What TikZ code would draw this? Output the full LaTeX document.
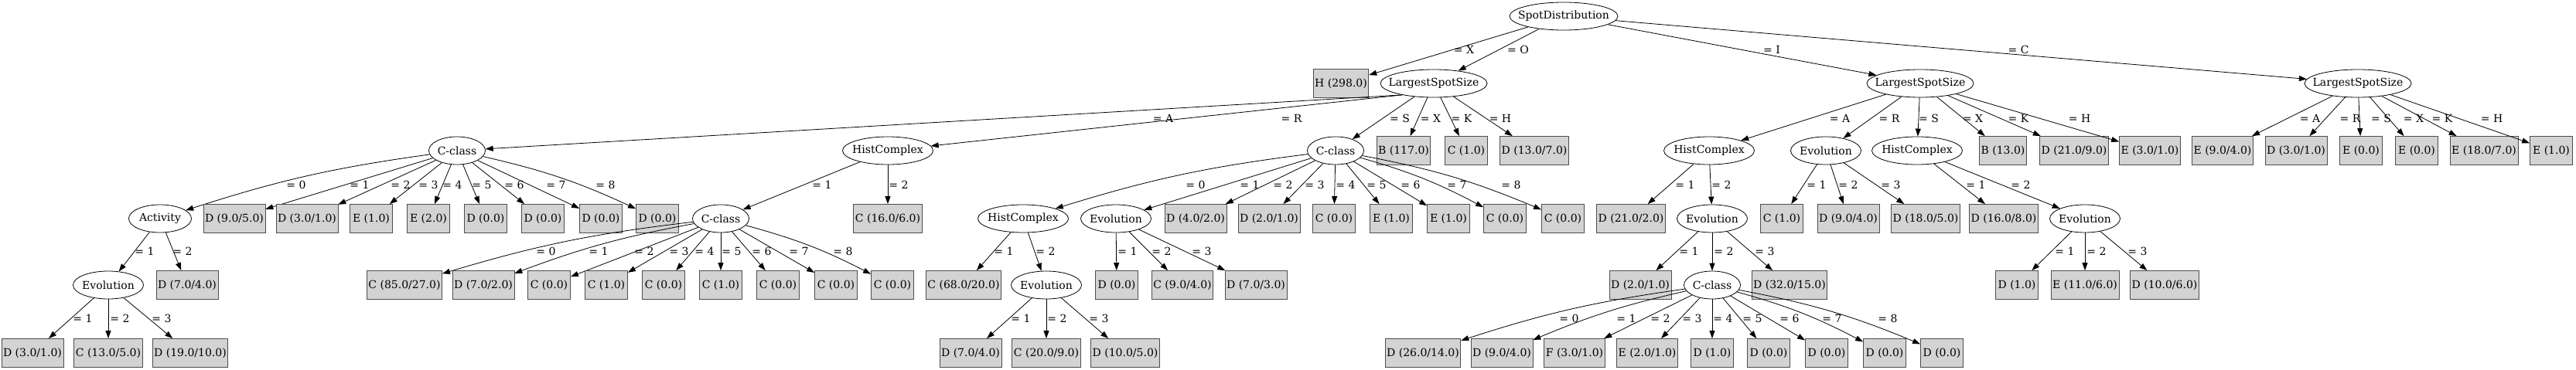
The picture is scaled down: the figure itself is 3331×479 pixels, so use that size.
\documentclass[tikz,border=0pt]{standalone}
\usepackage{fontspec}
\setmainfont{DejaVu Serif}
\usetikzlibrary{arrows.meta,shapes.geometric}
\definecolor{leafgray}{HTML}{D3D3D3}
\definecolor{leafline}{HTML}{4D4D4D}

\tikzset{
  attr/.style={draw, ellipse, line width=0.8pt, inner sep=0pt, minimum height=36pt, minimum width=#1,
    execute at begin node={\hbox to 0pt\bgroup\hss},
    execute at end node={\hss\egroup}},
  leaf/.style={draw=leafline, line width=0.8pt, fill=leafgray, minimum height=37pt, minimum width=55pt,
    inner xsep=2pt, inner ysep=0pt},
  link/.style={-{Triangle[length=10pt,width=7pt]}, line width=0.8pt},
  lbl/.style={inner sep=0pt},
  eS/.style={}, eL/.style={bend right=5}, eR/.style={bend left=6}
}

\begin{document}
\begin{tikzpicture}[x=1pt,y=-1pt,font=\fontsize{14pt}{16pt}\selectfont]
\useasboundingbox (0,0) rectangle (3331,479);
% root
\node[attr=140pt] (spot) at (2022,21) {SpotDistribution};
\node[leaf] (spotX) at (1734,108) {H (298.0)};
\node[attr=138pt] (sizeO) at (1854,108) {LargestSpotSize};
\node[attr=138pt] (sizeI) at (2483,108) {LargestSpotSize};
\node[attr=138pt] (sizeC) at (3049,108) {LargestSpotSize};
\foreach \c/\v/\lx in {spotX/X/1893,sizeO/O/1963,sizeI/I/2291,sizeC/C/2610}{
  \draw[link] (spot) -- (\c);
  \node[lbl] (l\c) at (\lx,64) {= \v};
}

% LargestSpotSize = O
\node[attr=73pt] (ccA) at (591,195) {C-class};
\node[attr=117pt] (hcR) at (1148,195) {HistComplex};
\node[attr=73pt] (ccS) at (1727,195) {C-class};
\draw[link] (sizeO.200) -- (ccA);
\node[lbl] (lccA) at (1504,153) {= A};
\draw[link] (sizeO.200) -- (hcR);
\node[lbl] (lhcR) at (1670,153) {= R};
\draw[link] (sizeO) -- (ccS);
\node[lbl] (lccS) at (1810,153) {= S};
\foreach \v/\t/\x/\lx in {X/{B (117.0)}/1815/1850,K/{C (1.0)}/1896/1890,H/{D (13.0/7.0)}/1984/1940}{
  \node[leaf] (sizeO\v) at (\x,195) {\t};
  \draw[link] (sizeO) -- (sizeO\v);
  \node[lbl] (lsizeO\v) at (\lx,153) {= \v};
}

% LargestSpotSize = I
\node[attr=117pt] (hcIA) at (2210,195) {HistComplex};
\node[attr=91pt] (evIR) at (2361,195) {Evolution};
\node[attr=117pt] (hcIS) at (2479,195) {HistComplex};
\node[leaf] (sizeIX) at (2590,195) {B (13.0)};
\node[leaf] (sizeIK) at (2682,195) {D (21.0/9.0)};
\node[leaf] (sizeIH) at (2780,195) {E (3.0/1.0)};
\foreach \c/\v/\lx in {hcIA/A/2379,evIR/R/2443,hcIS/S/2494,sizeIX/X/2551,sizeIK/K/2610,sizeIH/H/2689}{
  \draw[link] (sizeI) -- (\c);
  \node[lbl] (l\c) at (\lx,153) {= \v};
}

% LargestSpotSize = C
\foreach \v/\t/\x/\lx in {A/{E (9.0/4.0)}/2874/2987,R/{D (3.0/1.0)}/2969/3039,S/{E (0.0)}/3053/3079,
    X/{E (0.0)}/3125/3121,K/{E (18.0/7.0)}/3212/3158,H/{E (1.0)}/3299/3222}{
  \node[leaf] (sizeC\v) at (\x,195) {\t};
  \draw[link] (sizeC) -- (sizeC\v);
  \node[lbl] (lsizeC\v) at (\lx,153) {= \v};
}

% C-class under A
\node[attr=81pt] (act) at (207,283) {Activity};
\draw[link] (ccA) to[eL] (act);
\node[lbl] (lact) at (383,239) {= 0};
\foreach \i/\t/\x/\lx/\b in {1/{D (9.0/5.0)}/303/465/eS,2/{D (3.0/1.0)}/397/518/eS,3/{E (1.0)}/480/554/eS,
    4/{E (2.0)}/554/585/eS,5/{D (0.0)}/628/623/eS,6/{D (0.0)}/702/665/eS,7/{D (0.0)}/777/719/eS,8/{D (0.0)}/850/783/eR}{
  \node[leaf] (ccA\i) at (\x,283) {\t};
  \draw[link] (ccA) to[\b] (ccA\i);
  \node[lbl] (lccA\i) at (\lx,239) {= \i};
}

% HistComplex under R
\node[attr=73pt] (ccR) at (932,283) {C-class};
\node[leaf] (hcR2) at (1148,283) {C (16.0/6.0)};
\draw[link] (hcR) -- (ccR);
\node[lbl] (lccR) at (1063,239) {= 1};
\draw[link] (hcR) -- (hcR2);
\node[lbl] (lhcR2) at (1162,239) {= 2};

% C-class under S
\node[attr=117pt] (hcS) at (1323,283) {HistComplex};
\node[attr=91pt] (evS) at (1443,283) {Evolution};
\draw[link] (ccS) to[eL] (hcS);
\node[lbl] (lhcS) at (1546,239) {= 0};
\draw[link] (ccS) -- (evS);
\node[lbl] (levS) at (1616,239) {= 1};
\foreach \i/\t/\x/\lx/\b in {2/{D (4.0/2.0)}/1546/1659/eS,3/{D (2.0/1.0)}/1641/1700/eS,4/{C (0.0)}/1725/1740/eS,
    5/{E (1.0)}/1799/1780/eS,6/{E (1.0)}/1873/1824/eS,7/{C (0.0)}/1946/1884/eR,8/{C (0.0)}/2021/1954/eR}{
  \node[leaf] (ccS\i) at (\x,283) {\t};
  \draw[link] (ccS) to[\b] (ccS\i);
  \node[lbl] (lccS\i) at (\lx,239) {= \i};
}

% HistComplex under I = A
\node[leaf] (hcIA1) at (2109,283) {D (21.0/2.0)};
\node[attr=91pt] (evIA) at (2214,283) {Evolution};
\draw[link] (hcIA) -- (hcIA1);
\node[lbl] (lhcIA1) at (2179,239) {= 1};
\draw[link] (hcIA) -- (evIA);
\node[lbl] (levIA) at (2226,239) {= 2};

% Evolution under I = R
\foreach \i/\t/\x/\lx in {1/{C (1.0)}/2304/2349,2/{D (9.0/4.0)}/2390/2390,3/{D (18.0/5.0)}/2490/2445}{
  \node[leaf] (evIR\i) at (\x,283) {\t};
  \draw[link] (evIR) -- (evIR\i);
  \node[lbl] (levIR\i) at (\lx,239) {= \i};
}

% HistComplex under I = S
\node[leaf] (hcIS1) at (2591,283) {D (16.0/8.0)};
\node[attr=91pt] (evIS) at (2696,283) {Evolution};
\draw[link] (hcIS) -- (hcIS1);
\node[lbl] (lhcIS1) at (2555,239) {= 1};
\draw[link] (hcIS) -- (evIS);
\node[lbl] (levIS) at (2613,239) {= 2};

% Activity
\node[attr=91pt] (evA) at (140,369) {Evolution};
\node[leaf] (act2) at (242,369) {D (7.0/4.0)};
\draw[link] (act) -- (evA);
\node[lbl] (levA) at (187,325) {= 1};
\draw[link] (act) -- (act2);
\node[lbl] (lact2) at (236,325) {= 2};

% C-class under HistComplex = 1
\foreach \i/\t/\x/\lx/\b in {0/{C (85.0/27.0)}/523/706/eL,1/{D (7.0/2.0)}/625/774/eL,2/{C (0.0)}/710/833/eS,
    3/{C (1.0)}/784/878/eS,4/{C (0.0)}/858/911/eS,5/{C (1.0)}/932/946/eS,6/{C (0.0)}/1006/985/eS,
    7/{C (0.0)}/1081/1033/eS,8/{C (0.0)}/1154/1090/eR}{
  \node[leaf] (ccR\i) at (\x,369) {\t};
  \draw[link] (ccR) to[\b] (ccR\i);
  \node[lbl] (lccR\i) at (\lx,325) {= \i};
}

% HistComplex under S
\node[leaf] (hcS1) at (1246,369) {C (68.0/20.0)};
\node[attr=91pt] (evSS) at (1353,369) {Evolution};
\draw[link] (hcS) -- (hcS1);
\node[lbl] (lhcS1) at (1298,325) {= 1};
\draw[link] (hcS) -- (evSS);
\node[lbl] (levSS) at (1352,325) {= 2};

% Evolution under S
\foreach \i/\t/\x/\lx in {1/{D (0.0)}/1444/1458,2/{C (9.0/4.0)}/1529/1502,3/{D (7.0/3.0)}/1624/1554}{
  \node[leaf] (evS\i) at (\x,369) {\t};
  \draw[link] (evS) -- (evS\i);
  \node[lbl] (levS\i) at (\lx,325) {= \i};
}

% Evolution under I = A
\node[leaf] (evIA1) at (2121,369) {D (2.0/1.0)};
\node[attr=73pt] (ccIA) at (2214,369) {C-class};
\node[leaf] (evIA3) at (2314,369) {D (32.0/15.0)};
\foreach \c/\v/\lx in {evIA1/1/2184,ccIA/2/2229,evIA3/3/2282}{
  \draw[link] (evIA) -- (\c);
  \node[lbl] (l\c) at (\lx,325) {= \v};
}

% Evolution under I = S
\foreach \i/\t/\x/\lx in {1/{D (1.0)}/2608/2670,2/{E (11.0/6.0)}/2696/2711,3/{D (10.0/6.0)}/2799/2764}{
  \node[leaf] (evIS\i) at (\x,369) {\t};
  \draw[link] (evIS) -- (evIS\i);
  \node[lbl] (levIS\i) at (\lx,325) {= \i};
}

% bottom row
\foreach \i/\t/\x/\lx in {1/{D (3.0/1.0)}/42/107,2/{C (13.0/5.0)}/140/155,3/{D (19.0/10.0)}/246/209}{
  \node[leaf] (evA\i) at (\x,457) {\t};
  \draw[link] (evA) -- (evA\i);
  \node[lbl] (levA\i) at (\lx,412) {= \i};
}
\foreach \i/\t/\x/\lx in {1/{D (7.0/4.0)}/1255/1320,2/{C (20.0/9.0)}/1353/1367,3/{D (10.0/5.0)}/1455/1421}{
  \node[leaf] (evSS\i) at (\x,457) {\t};
  \draw[link] (evSS) -- (evSS\i);
  \node[lbl] (levSS\i) at (\lx,412) {= \i};
}
\foreach \i/\t/\x/\lx/\b in {0/{D (26.0/14.0)}/1840/2029/eL,1/{D (9.0/4.0)}/1942/2103/eL,2/{F (3.0/1.0)}/2036/2147/eS,
    3/{E (2.0/1.0)}/2130/2188/eS,4/{D (1.0)}/2214/2228/eS,5/{D (0.0)}/2287/2266/eS,6/{D (0.0)}/2362/2314/eS,
    7/{D (0.0)}/2437/2369/eR,8/{D (0.0)}/2511/2441/eR}{
  \node[leaf] (ccIA\i) at (\x,457) {\t};
  \draw[link] (ccIA) to[\b] (ccIA\i);
  \node[lbl] (lccIA\i) at (\lx,412) {= \i};
}
\end{tikzpicture}
\end{document}
